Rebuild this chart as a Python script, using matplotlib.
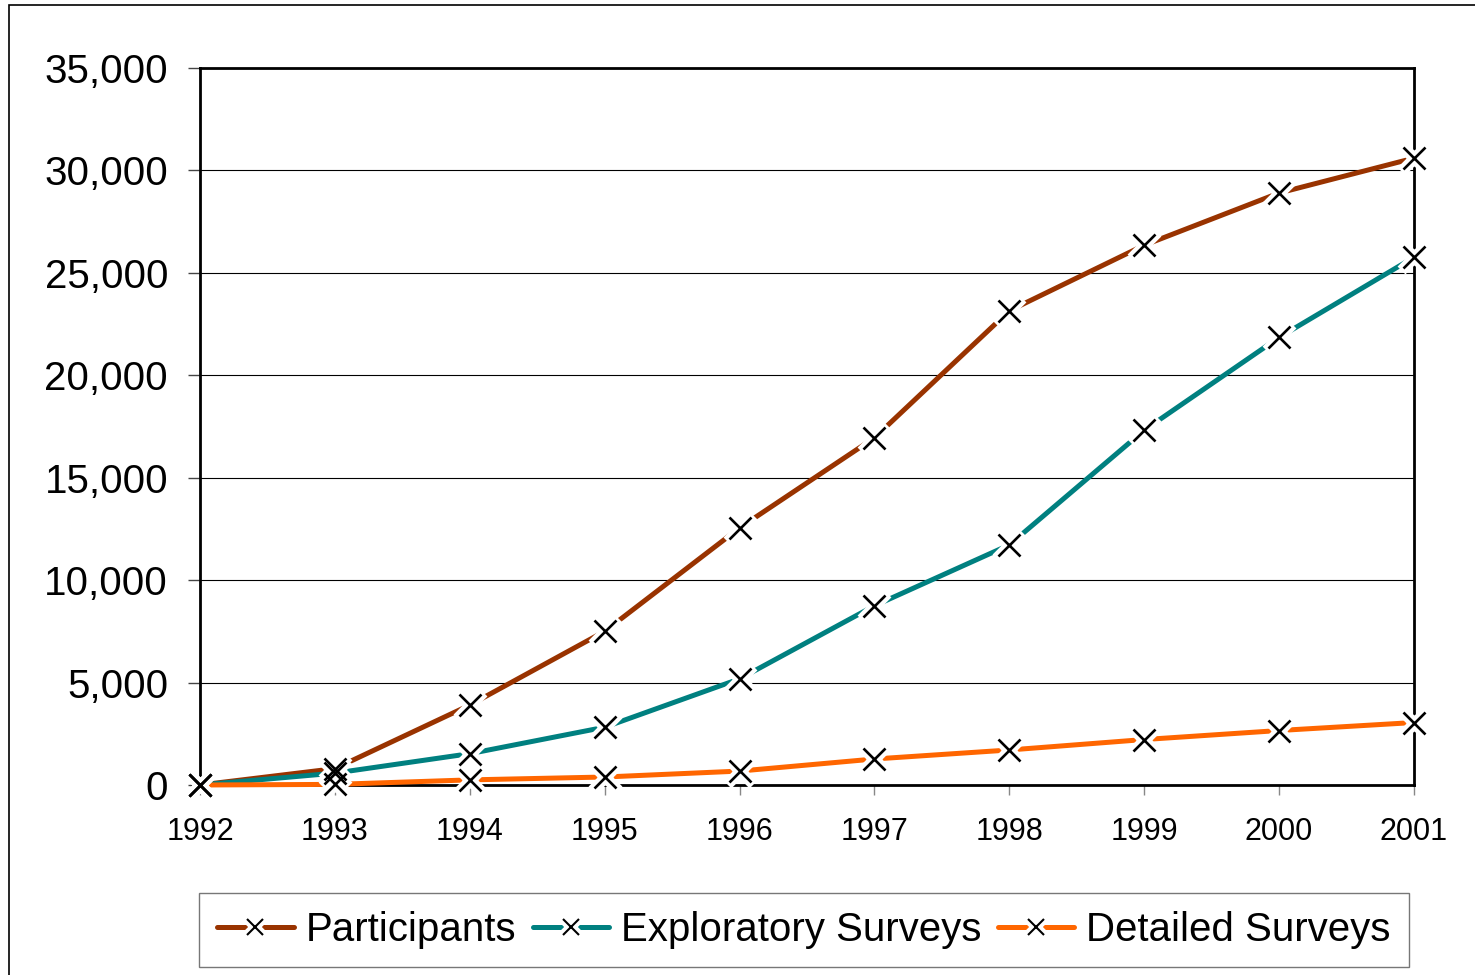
import matplotlib.pyplot as plt
from matplotlib.patches import Rectangle
from matplotlib.ticker import FuncFormatter
from matplotlib.legend_handler import HandlerTuple

plt.rcParams['font.family'] = ['Liberation Sans', 'DejaVu Sans']

years = [1992, 1993, 1994, 1995, 1996, 1997, 1998, 1999, 2000, 2001]
participants = [0, 800, 3900, 7500, 12550, 16950, 23150, 26350, 28900, 30600]
exploratory = [0, 580, 1530, 2820, 5180, 8750, 11720, 17320, 21850, 25760]
detailed = [0, 30, 250, 390, 680, 1270, 1710, 2220, 2660, 3050]

series = [
    ("Participants", participants, "#993300"),
    ("Exploratory Surveys", exploratory, "#008080"),
    ("Detailed Surveys", detailed, "#FF6600"),
]

fig = plt.figure(figsize=(14.75, 9.75), dpi=100)
ax = fig.add_axes([200 / 1475, 1 - 785 / 975, 1214 / 1475, 717 / 975])

# outer chart frame
fig.patches.append(Rectangle((9 / 1475, -0.1), 1.2, 1 - 5 / 975 + 0.1,
                             transform=fig.transFigure, fill=False,
                             edgecolor='black', lw=1.2))

handles = []
labels = []
for name, vals, col in series:
    ax.plot(years, vals, color=col, lw=3.6, clip_on=False, zorder=3)
    ax.plot(years, vals, 'x', ms=19, mew=8, color='white', clip_on=False, zorder=4)
    ax.plot(years, vals, 'x', ms=16, mew=1.9, color='black', clip_on=False, zorder=5)
    l1, = ax.plot([], [], color=col, lw=3.6, solid_capstyle='round')
    l2, = ax.plot([], [], 'x', ms=14, mew=7, color='white')
    l3, = ax.plot([], [], 'x', ms=12, mew=1.5, color='black')
    handles.append((l1, l2, l3))
    labels.append(name)

ax.set_xlim(1992, 2001)
ax.set_ylim(0, 35000)
ax.set_xticks(years)
ax.set_yticks(range(0, 35001, 5000))
ax.yaxis.set_major_formatter(FuncFormatter(lambda v, p: f"{int(v):,}"))
ax.tick_params(axis='y', labelsize=29, length=9, width=1, pad=14, color='#444444')
ax.tick_params(axis='x', labelsize=22, length=7, width=1, pad=16, color='#888888')
ax.grid(axis='y', color='black', lw=0.8, zorder=1)
for s in ax.spines.values():
    s.set_linewidth(2)
    s.set_color('black')

fig.legend(handles, labels, handler_map={tuple: HandlerTuple(ndivide=1)},
           loc='center', ncol=3,
           bbox_to_anchor=(804 / 1475, 1 - 930 / 975), fontsize=29,
           frameon=True, fancybox=False, edgecolor='#555555',
           handlelength=1.9, handletextpad=0.3, columnspacing=0.4,
           borderpad=0.45, borderaxespad=0)

fig.savefig("out.png", dpi=100)
